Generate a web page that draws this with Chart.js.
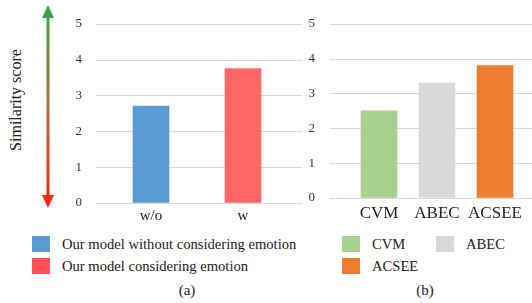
<!DOCTYPE html>
<html>
<head>
<meta charset="utf-8">
<script src="https://cdn.jsdelivr.net/npm/chart.js@4"></script>
<style>
  html, body { margin: 0; padding: 0; background: #fff; }
  body { width: 532px; height: 303px; position: relative; overflow: hidden; font-family: "Liberation Serif", "Times New Roman", serif; color: #222; }
  .abs { position: absolute; }
  #cA { left: 0; top: 0; }
  #cB { left: 290px; top: 0; }
  .ytitle { position: absolute; left: 16px; top: 100px; transform: translate(-50%, -50%) rotate(-90deg); font-size: 16px; white-space: nowrap; color: #222; }
  .leg { position: absolute; font-size: 14.6px; line-height: 16px; white-space: nowrap; color: #222; }
  .sw { position: absolute; width: 18px; height: 16px; }
  .cap { position: absolute; font-size: 15px; transform: translateX(-50%); color: #222; }
</style>
</head>
<body>
<svg class="abs" style="left:0;top:0" width="100" height="220">
  <defs>
    <linearGradient id="g" x1="0" y1="0" x2="0" y2="1">
      <stop offset="0" stop-color="#2aa84a"/>
      <stop offset="0.5" stop-color="#b0703a"/>
      <stop offset="1" stop-color="#ff2010"/>
    </linearGradient>
  </defs>
  <polygon points="48,5 54,18 49.5,18 49.5,195 54,195 48,208 42,195 46.5,195 46.5,18 42,18" fill="url(#g)"/>
</svg>
<div class="ytitle">Similarity score</div>
<canvas id="cA" class="abs" width="305" height="230" style="width:305px;height:230px"></canvas>
<canvas id="cB" class="abs" width="242" height="230" style="width:242px;height:230px"></canvas>
<div id="legA"></div>
<div id="legB"></div>
<div class="cap" style="left:187px;top:282px">(a)</div>
<div class="cap" style="left:425px;top:282px">(b)</div>
<script>
// ---- data ----
const catsA = ["w/o", "w"];
const valsA = [2.7, 3.75];
const colorsA = ["#5b9bd5", "#ff6666"];
const legendA = ["Our model without considering emotion", "Our model considering emotion"];
const legendColorsA = ["#5b9bd5", "#ff5057"];

const catsB = ["CVM", "ABEC", "ACSEE"];
const valsB = [2.5, 3.3, 3.8];
const colorsB = ["#a9d18e", "#d9d9d9", "#ed7d31"];

const yTicks = [0, 1, 2, 3, 4, 5];

const TXT = "#333";
const FONT = "'Liberation Serif', 'Times New Roman', serif";

function gridPlugin(x0, x1) {
  return {
    id: "extGrid",
    beforeDatasetsDraw(chart) {
      const y = chart.scales.y, ctx = chart.ctx;
      ctx.save();
      ctx.strokeStyle = "#d9d9d9";
      ctx.lineWidth = 1;
      yTicks.forEach(v => {
        const py = Math.round(y.getPixelForValue(v)) + 0.5;
        ctx.beginPath(); ctx.moveTo(x0, py); ctx.lineTo(x1, py); ctx.stroke();
      });
      ctx.restore();
    }
  };
}

function makeChart(id, cats, vals, colors, o) {
  const ch = new Chart(document.getElementById(id), {
    type: "bar",
    data: { labels: cats, datasets: [{ data: vals, backgroundColor: colors, borderWidth: 0, barThickness: 36 }] },
    options: {
      responsive: false, maintainAspectRatio: false, animation: false, devicePixelRatio: 1,
      layout: { padding: { top: o.wantTop, right: o.right, left: 0, bottom: 0 } },
      plugins: { legend: { display: false }, tooltip: { enabled: false } },
      scales: {
        y: {
          min: 0, max: 5,
          afterFit(s) { s.width = o.yWidth; },
          afterBuildTicks(s) { s.ticks = yTicks.map(v => ({ value: v })); },
          grid: { display: true, drawOnChartArea: false, drawTicks: true, tickLength: o.yGap, color: "rgba(0,0,0,0)" },
          border: { display: false },
          ticks: { padding: 0, color: TXT, font: { family: FONT, size: 13 } }
        },
        x: {
          grid: { display: false, drawTicks: false },
          border: { display: false },
          ticks: { padding: o.xPad, maxRotation: 0, minRotation: 0, autoSkip: false, color: "#222", font: { family: FONT, size: o.xFont, lineHeight: 1 } }
        }
      }
    },
    plugins: [gridPlugin(o.g0, o.g1)]
  });
  // fit the plot area to the target box
  for (let i = 0; i < 8; i++) {
    const a = ch.chartArea, p = ch.options.layout.padding;
    const dt = o.wantTop - a.top, db = a.bottom - o.wantBottom;
    if (Math.abs(dt) < 0.05 && Math.abs(db) < 0.05) break;
    p.top = Math.max(0, p.top + dt);
    p.bottom = Math.max(0, p.bottom + db);
    ch.update();
  }
  return ch;
}

makeChart("cA", catsA, valsA, colorsA, { right: 16, yWidth: 105, yGap: 23, xPad: 6, xFont: 15, g0: 96, g1: 302, wantTop: 23.7, wantBottom: 203.7 });
makeChart("cB", catsB, valsB, colorsB, { right: 8, yWidth: 60, yGap: 35, xPad: 7.5, xFont: 17, g0: 40, g1: 242, wantTop: 23.7, wantBottom: 202.3 });

// ---- legends (HTML text) ----
function addItem(parent, x, y, color, label) {
  const s = document.createElement("div");
  s.className = "sw"; s.style.left = x + "px"; s.style.top = y + "px"; s.style.background = color;
  parent.appendChild(s);
  const t = document.createElement("div");
  t.className = "leg"; t.style.left = (x + 30) + "px"; t.style.top = y + "px"; t.textContent = label;
  parent.appendChild(t);
}
const la = document.getElementById("legA");
legendA.forEach((l, i) => addItem(la, 32, 236 + i * 22, legendColorsA[i], l));
const lb = document.getElementById("legB");
const posB = [[342, 236], [436, 236], [342, 258]];
catsB.forEach((c, i) => addItem(lb, posB[i][0], posB[i][1], colorsB[i], c));
</script>
</body>
</html>
